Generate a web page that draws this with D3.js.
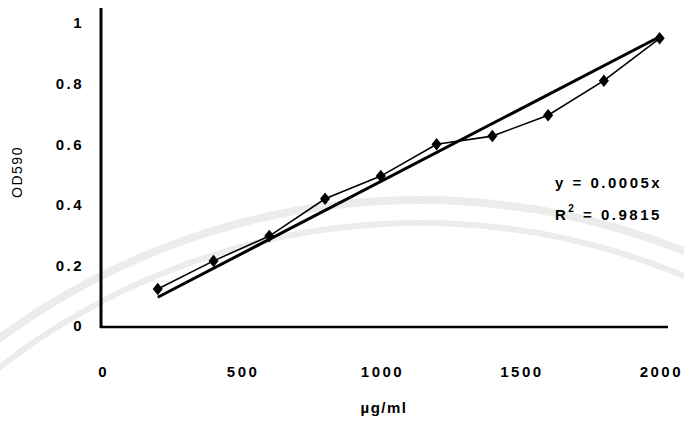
<!DOCTYPE html>
<html>
<head>
<meta charset="utf-8">
<script src="https://cdn.jsdelivr.net/npm/d3@7"></script>
<style>
  body { margin: 0; background: #fff; }
  text { font-family: "Liberation Sans", Arial, sans-serif; fill: #000; }
</style>
</head>
<body>
<div id="chart"></div>
<script>
// concentrations (ug/ml) and OD590 readings
const conc = [200, 400, 600, 800, 1000, 1200, 1400, 1600, 1800, 2000];
const od = [0.122, 0.215, 0.297, 0.42, 0.495, 0.60, 0.627, 0.696, 0.81, 0.95];
// linear trend line end points
const trendX = [200, 2000];
const trendY = [0.095, 0.955];
const xTicks = [0, 500, 1000, 1500, 2000];
const yTicks = [0, 0.2, 0.4, 0.6, 0.8, 1];
const equation = 'y = 0.0005x';
const rSquared = '0.9815';

const width = 684, height = 421;

const svg = d3.select('#chart')
  .append('svg')
  .attr('width', width)
  .attr('height', height);

// faint watermark arcs from the scanned page
const wm = svg.append('g').attr('fill', 'none').attr('stroke', '#ececec');
wm.append('circle').attr('cx', 420).attr('cy', 907).attr('r', 707).attr('stroke-width', 8);
wm.append('circle').attr('cx', 420).attr('cy', 907).attr('r', 684).attr('stroke-width', 6);

const x = d3.scaleLinear().domain([0, 2030]).range([102, 668]);
const y = d3.scaleLinear().domain([0, 1.05]).range([326, 8]);

// axes
svg.append('line')
  .attr('x1', x(0) - 1).attr('x2', x(0) - 1)
  .attr('y1', y(1.05)).attr('y2', y(0) + 2)
  .attr('stroke', '#000').attr('stroke-width', 3);

svg.append('line')
  .attr('x1', x(0) - 2).attr('x2', x(2030))
  .attr('y1', y(0) + 1).attr('y2', y(0) + 1)
  .attr('stroke', '#000').attr('stroke-width', 2.5);

const tickFont = sel => sel
  .style('font-size', '15px')
  .style('font-weight', 'bold')
  .style('letter-spacing', '2.5px')
  .style('font-family', '"Liberation Sans", Arial, sans-serif');

const xAxis = svg.append('g')
  .attr('transform', `translate(0,${y(0)})`)
  .call(d3.axisBottom(x).tickValues(xTicks).tickSize(0).tickPadding(40).tickFormat(d3.format('d')));
xAxis.select('.domain').remove();
xAxis.selectAll('text').call(tickFont).attr('dx', '1.2px');

const yAxis = svg.append('g')
  .attr('transform', `translate(${x(0)},0)`)
  .call(d3.axisLeft(y).tickValues(yTicks).tickSize(0).tickPadding(18)
    .tickFormat(d => d === 0 || d === 1 ? d : d3.format('.1f')(d)));
yAxis.select('.domain').remove();
yAxis.selectAll('text').call(tickFont);

// axis titles
svg.append('text')
  .attr('transform', 'translate(22,172) rotate(-90)')
  .attr('text-anchor', 'middle')
  .style('font-size', '14px')
  .style('letter-spacing', '1.5px')
  .text('OD590');

svg.append('text')
  .attr('x', 384).attr('y', 413)
  .attr('text-anchor', 'middle')
  .style('font-size', '15px')
  .style('font-weight', 'bold')
  .style('letter-spacing', '1.5px')
  .text('\u00b5g/ml');

// trend line
svg.append('line')
  .attr('x1', x(trendX[0])).attr('y1', y(trendY[0]))
  .attr('x2', x(trendX[1])).attr('y2', y(trendY[1]))
  .attr('stroke', '#000').attr('stroke-width', 3);

// data line
const line = d3.line()
  .x((d, i) => x(conc[i]))
  .y(d => y(d));

svg.append('path')
  .datum(od)
  .attr('fill', 'none')
  .attr('stroke', '#000')
  .attr('stroke-width', 1.6)
  .attr('d', line);

svg.selectAll('path.marker')
  .data(od)
  .enter()
  .append('path')
  .attr('class', 'marker')
  .attr('transform', (d, i) => `translate(${x(conc[i])},${y(d)}) scale(1.4,1)`)
  .attr('d', d3.symbol().type(d3.symbolDiamond).size(45))
  .attr('fill', '#000');

// equation label
const eq = svg.append('g')
  .style('font-size', '15px')
  .style('font-weight', 'bold')
  .style('letter-spacing', '2.5px');

eq.append('text').attr('x', 555).attr('y', 188).text(equation);

const r2 = eq.append('text').attr('x', 555).attr('y', 220);
r2.append('tspan').text('R');
r2.append('tspan').attr('dy', -8).style('font-size', '10px').text('2');
r2.append('tspan').attr('dy', 8).text(' = ' + rSquared);
</script>
</body>
</html>
